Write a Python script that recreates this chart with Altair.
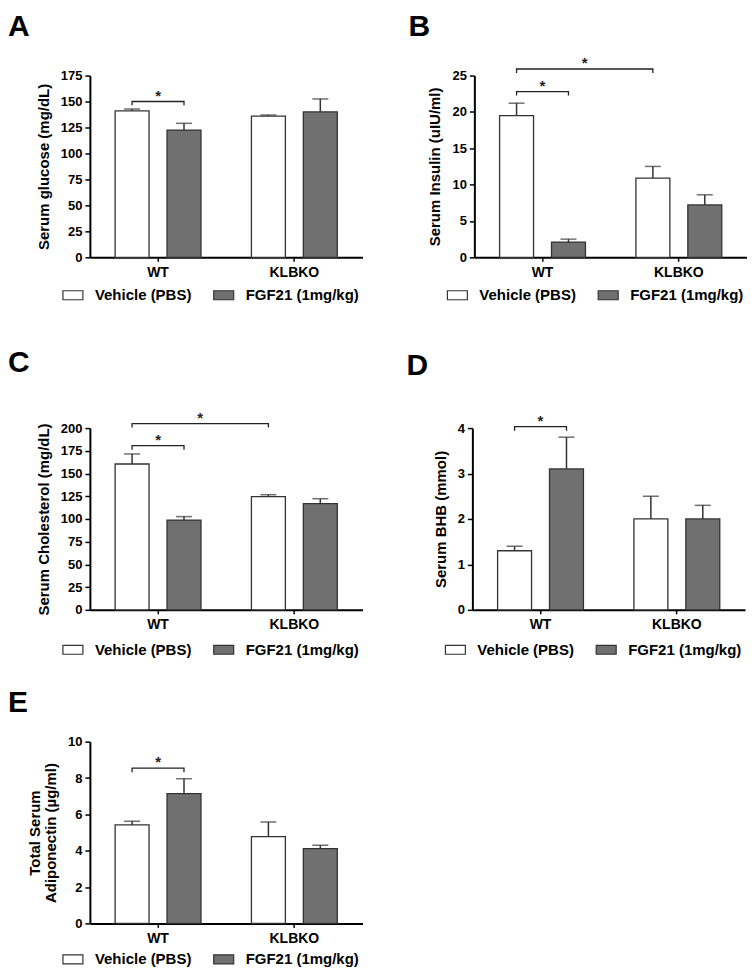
import altair as alt
import pandas as pd

FONT = "Liberation Sans"

GROUPS = ["WT", "KLBKO"]
TREATMENTS = ["Vehicle (PBS)", "FGF21 (1mg/kg)"]
BAR_GROUP = ["WT", "WT", "KLBKO", "KLBKO"]
BAR_TREAT = ["Vehicle (PBS)", "FGF21 (1mg/kg)", "Vehicle (PBS)", "FGF21 (1mg/kg)"]
FILL_COLORS = ["#ffffff", "#707070"]

# Panel A - glucose
GLUCOSE_MEAN = [141, 122.5, 136, 140]
GLUCOSE_UPPER = [142.8, 129, 137, 152.5]
GLUCOSE_TICKS = [0, 25, 50, 75, 100, 125, 150, 175]
# Panel B - insulin
INSULIN_MEAN = [19.5, 2.1, 10.9, 7.2]
INSULIN_UPPER = [21.2, 2.5, 12.5, 8.6]
INSULIN_TICKS = [0, 5, 10, 15, 20, 25]
# Panel C - cholesterol
CHOL_MEAN = [160.5, 98.8, 124.5, 116.8]
CHOL_UPPER = [171.5, 102.6, 126.7, 122.3]
CHOL_TICKS = [0, 25, 50, 75, 100, 125, 150, 175, 200]
# Panel D - BHB
BHB_MEAN = [1.3, 3.1, 2.0, 2.0]
BHB_UPPER = [1.4, 3.8, 2.5, 2.3]
BHB_TICKS = [0, 1, 2, 3, 4]
# Panel E - adiponectin
ADIPO_MEAN = [5.42, 7.14, 4.78, 4.12]
ADIPO_UPPER = [5.62, 7.96, 5.58, 4.3]
ADIPO_TICKS = [0, 2, 4, 6, 8, 10]

# significance brackets: (from group, from treatment, to group, to treatment, line y, tip y)
GLUCOSE_BRACKETS = [("WT", "Vehicle (PBS)", "WT", "FGF21 (1mg/kg)", 150, 146.3)]
INSULIN_BRACKETS = [("WT", "Vehicle (PBS)", "WT", "FGF21 (1mg/kg)", 22.8, 22.25),
                    ("WT", "Vehicle (PBS)", "KLBKO", "Vehicle (PBS)", 25.9, 25.35)]
CHOL_BRACKETS = [("WT", "Vehicle (PBS)", "WT", "FGF21 (1mg/kg)", 180.6, 176.2),
                 ("WT", "Vehicle (PBS)", "KLBKO", "Vehicle (PBS)", 205, 200.6)]
BHB_BRACKETS = [("WT", "Vehicle (PBS)", "WT", "FGF21 (1mg/kg)", 4.03, 3.94)]
ADIPO_BRACKETS = [("WT", "Vehicle (PBS)", "WT", "FGF21 (1mg/kg)", 8.54, 8.32)]

W = 273
H = 182
PI, PO = 0.346, 0.486
STEP = W / 2
SUB = STEP / (2 - PI + 2 * PO)
VEH_CENTER = SUB * PO + SUB * (1 - PI) / 2


def panel(letter, ytitle, mean, upper, ticks, brackets, title_dx, title_offset, legend_y):
    ymax = ticks[-1]
    df = pd.DataFrame({"group": BAR_GROUP, "treatment": BAR_TREAT,
                       "mean": mean, "upper": upper})
    x = alt.X("group:N", sort=GROUPS, title=None,
              scale=alt.Scale(paddingInner=0, paddingOuter=0),
              axis=alt.Axis(labelAngle=0, tickSize=4, labelPadding=4, labelFontSize=14,
                            domainWidth=2, tickWidth=1.5))
    xo = alt.XOffset("treatment:N", sort=TREATMENTS,
                     scale=alt.Scale(paddingInner=PI, paddingOuter=PO))
    yscale = alt.Scale(domain=[0, ymax], nice=False, zero=True)
    yaxis = alt.Axis(values=ticks, tickSize=5, labelPadding=3, labelFontSize=13,
                     titleFontSize=15, titlePadding=9, domainWidth=2, tickWidth=1.5,
                     titleLineHeight=16)

    def Y(field):
        return alt.Y(field, title=ytitle, scale=yscale, axis=yaxis)

    bars = alt.Chart(df).mark_bar(stroke="#333333", strokeWidth=1.3).encode(
        x=x, xOffset=xo, y=Y("mean:Q"),
        fill=alt.Fill("treatment:N", sort=TREATMENTS,
                      scale=alt.Scale(domain=TREATMENTS, range=FILL_COLORS),
                      legend=alt.Legend(title=None, orient="none", direction="horizontal",
                                        legendX=-28, legendY=legend_y,
                                        symbolType="M-1,-0.45L1,-0.45L1,0.45L-1,0.45Z",
                                        symbolSize=400, symbolStrokeColor="#333333",
                                        symbolStrokeWidth=1.2, symbolOpacity=1,
                                        labelFont=FONT, labelFontWeight="bold",
                                        labelFontSize=15, labelColor="black",
                                        labelOffset=11, columnPadding=19, padding=0)),
    )
    err = alt.Chart(df).mark_rule(color="#333333", strokeWidth=1.5).encode(
        x=x, xOffset=xo, y=Y("mean:Q"), y2="upper:Q")
    cap = alt.Chart(df).mark_tick(orient="horizontal", size=16, thickness=1.5,
                                  color="#333333").encode(x=x, xOffset=xo, y=Y("upper:Q"))

    rows = []
    for i, (g1, t1, g2, t2, yl, yt) in enumerate(brackets):
        rows += [
            {"bid": i, "order": 0, "group": g1, "treatment": t1, "y": yt},
            {"bid": i, "order": 1, "group": g1, "treatment": t1, "y": yl},
            {"bid": i, "order": 2, "group": g2, "treatment": t2, "y": yl},
            {"bid": i, "order": 3, "group": g2, "treatment": t2, "y": yt},
        ]
    bdf = pd.DataFrame(rows)
    blines = alt.Chart(bdf).mark_line(color="#222222", strokeWidth=1.3).encode(
        x=x, xOffset=xo, y=Y("y:Q"), detail="bid:N", order="order:Q")

    short = [b for b in brackets if b[2] == b[0]]
    long_ = [b for b in brackets if b[2] != b[0]]
    layers = [bars, err, cap, blines]
    txt = dict(text="*", font=FONT, fontWeight="bold", fontSize=15, color="#222222",
               baseline="alphabetic", align="center", dy=-1)
    if short:
        sdf = pd.DataFrame({"group": [b[0] for b in short], "y": [b[4] for b in short]})
        layers.append(alt.Chart(sdf).mark_text(**txt).encode(x=x, y=Y("y:Q")))
    if long_:
        ldf = pd.DataFrame({"group": [b[0] for b in long_], "y": [b[4] for b in long_]})
        layers.append(alt.Chart(ldf).mark_text(dx=VEH_CENTER, **txt).encode(x=x, y=Y("y:Q")))

    return alt.layer(*layers).properties(
        width=W, height=H,
        title=alt.TitleParams(letter, anchor="start", frame="group", dx=title_dx,
                              offset=title_offset, fontSize=30, fontWeight="bold",
                              font=FONT, color="black"),
    )


A = panel("A", "Serum glucose (mg/dL)", GLUCOSE_MEAN, GLUCOSE_UPPER, GLUCOSE_TICKS,
          GLUCOSE_BRACKETS, -82, 28, 209)
B = panel("B", "Serum Insulin (uIU/ml)", INSULIN_MEAN, INSULIN_UPPER, INSULIN_TICKS,
          INSULIN_BRACKETS, -66, 14, 209)
C = panel("C", "Serum Cholesterol (mg/dL)", CHOL_MEAN, CHOL_UPPER, CHOL_TICKS,
          CHOL_BRACKETS, -82, 33, 211)
D = panel("D", "Serum BHB (mmol)", BHB_MEAN, BHB_UPPER, BHB_TICKS,
          BHB_BRACKETS, -66, 33, 211)
E = panel("E", ["Total Serum", "Adiponectin (µg/ml)"], ADIPO_MEAN, ADIPO_UPPER, ADIPO_TICKS,
          ADIPO_BRACKETS, -82, 18, 207)


def ind(c):
    return c.resolve_scale(x="independent", y="independent", fill="independent").resolve_legend(
        fill="independent")


row1 = ind(alt.hconcat(A, B, spacing=46))
row2 = ind(alt.hconcat(C, D, spacing=44))
top = ind(alt.concat(row1, row2, columns=1, spacing=44))
chart = ind(alt.concat(top, E, columns=1, spacing=30)).properties(
    padding={"top": 3, "left": 0, "right": 0, "bottom": 0}
).configure_view(
    stroke=None
).configure_axis(
    domainColor="black", tickColor="black", labelColor="black", titleColor="black",
    labelFont=FONT, titleFont=FONT, labelFontWeight="bold", titleFontWeight="bold",
    grid=False,
)

chart.save("out.html", embed_options={"renderer": "svg", "actions": False})
